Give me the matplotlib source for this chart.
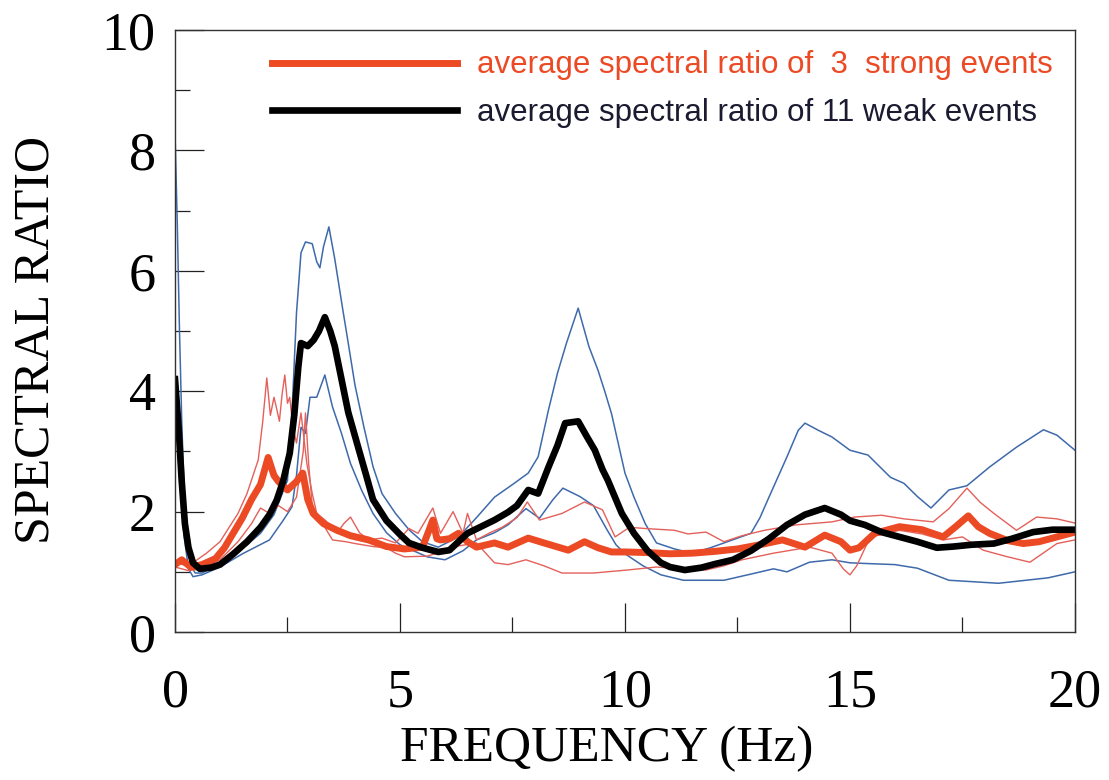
import matplotlib
matplotlib.use("Agg")
import matplotlib.pyplot as plt
from matplotlib.ticker import MultipleLocator

# average of 11 weak events (thick black) and +/- envelope (thin blue)
f_black = [0.0, 0.08, 0.15, 0.22, 0.3, 0.4, 0.55, 0.8, 1.0, 1.3, 1.6, 1.9, 2.1, 2.26, 2.4,
           2.55, 2.65, 2.74, 2.8, 2.95, 3.08, 3.2, 3.33, 3.45, 3.55, 3.7, 3.85, 4.07, 4.25,
           4.4, 4.7, 5.0, 5.2, 5.5, 5.85, 6.1, 6.3, 6.5, 6.8, 7.1, 7.4, 7.6, 7.85, 8.07, 8.3,
           8.5, 8.67, 8.96, 9.15, 9.33, 9.5, 9.62, 9.8, 9.93, 10.2, 10.5, 10.8, 11.0, 11.33,
           11.7, 12.0, 12.4, 12.8, 13.2, 13.6, 14.0, 14.44, 14.8, 15.0, 15.33, 15.7, 16.0,
           16.5, 16.93, 17.3, 17.7, 18.2, 18.6, 19.07, 19.5, 20.0]
black = [4.2, 3.4, 2.5, 1.8, 1.4, 1.15, 1.05, 1.07, 1.12, 1.3, 1.5, 1.74, 1.95, 2.19, 2.5,
         2.97, 3.6, 4.4, 4.8, 4.75, 4.85, 5.0, 5.23, 5.0, 4.75, 4.2, 3.65, 3.07, 2.6,
         2.2, 1.85, 1.62, 1.48, 1.4, 1.33, 1.36, 1.5, 1.64, 1.75, 1.86, 1.99, 2.1, 2.36, 2.3, 2.74,
         3.1, 3.47, 3.5, 3.25, 3.02, 2.7, 2.52, 2.2, 1.97, 1.64, 1.35, 1.15, 1.08, 1.03,
         1.07, 1.13, 1.2, 1.35, 1.55, 1.78, 1.95, 2.06, 1.95, 1.85, 1.78, 1.66, 1.6,
         1.5, 1.4, 1.42, 1.45, 1.47, 1.55, 1.66, 1.7, 1.7]

f_blue_hi = [0.0, 0.05, 0.1, 0.15, 0.2, 0.27, 0.35, 0.45, 0.6, 0.9, 1.3, 1.6, 1.9, 2.2, 2.5,
             2.6, 2.7, 2.8, 2.9, 3.05, 3.15, 3.22, 3.3, 3.42, 3.55, 3.73, 3.85, 4.0, 4.2, 4.4,
             4.6, 4.9, 5.2, 5.5, 5.85, 6.3, 6.7, 7.1, 7.5, 7.85, 8.07, 8.3, 8.5, 8.7, 8.96,
             9.2, 9.4, 9.55, 9.7, 10.0, 10.2, 10.45, 10.7, 11.1, 11.5, 11.9, 12.2, 12.8, 13.0,
             13.2, 13.6, 13.85, 14.0, 14.3, 14.6, 15.0, 15.4, 15.9, 16.2, 16.5, 16.8, 17.2,
             17.6, 18.1, 18.7, 19.3, 19.6, 20.0]
blue_hi = [8.3, 6.8, 5.0, 3.5, 2.4, 1.5, 1.1, 0.98, 0.98, 1.1, 1.3, 1.45, 1.64, 1.95, 2.52,
           3.64, 5.3, 6.3, 6.48, 6.45, 6.15, 6.05, 6.4, 6.73, 6.2, 5.35, 4.8, 4.1, 3.4, 2.75,
           2.3, 1.97, 1.7, 1.5, 1.41, 1.58, 1.9, 2.24, 2.45, 2.64, 2.91, 3.69, 4.3, 4.8, 5.38,
           4.74, 4.35, 4.0, 3.63, 2.64, 2.24, 1.8, 1.48, 1.38, 1.31, 1.4, 1.48, 1.64, 1.9,
           2.24, 2.91, 3.35, 3.47, 3.35, 3.24, 3.02, 2.94, 2.57, 2.47, 2.25, 2.06, 2.36,
           2.43, 2.74, 3.07, 3.36, 3.27, 3.02]

f_blue_lo = [0.0, 0.1, 0.2, 0.3, 0.4, 0.6, 1.0, 1.5, 2.1, 2.4, 2.6, 2.7, 2.8, 2.9, 3.0, 3.15,
             3.33, 3.5, 3.7, 3.9, 4.15, 4.4, 4.7, 5.0, 5.3, 5.6, 6.0, 6.4, 6.7, 7.1, 7.4, 7.8,
             8.1, 8.4, 8.62, 9.0, 9.3, 9.6, 9.8, 10.0, 10.4, 10.8, 11.3, 12.2, 12.9, 13.3,
             13.6, 14.1, 14.6, 15.0, 15.3, 16.0, 16.5, 17.2, 18.3, 19.4, 20.0]
blue_lo = [3.9, 2.6, 1.6, 1.05, 0.92, 0.95, 1.08, 1.3, 1.53, 1.85, 2.08, 2.6, 3.4, 3.3, 3.9, 3.9,
           4.27, 3.74, 3.3, 2.8, 2.35, 1.97, 1.65, 1.45, 1.35, 1.25, 1.2, 1.35, 1.53, 1.65, 1.78, 2.05,
           1.89, 2.2, 2.39, 2.25, 2.1, 1.7, 1.45, 1.3, 1.1, 0.95, 0.86, 0.86, 0.98, 1.05,
           1.0, 1.16, 1.2, 1.15, 1.14, 1.12, 1.06, 0.86, 0.81, 0.9, 1.0]

# average of 3 strong events (thick red) and envelope (thin red)
f_red = [0.0, 0.15, 0.35, 0.6, 0.9, 1.1, 1.3, 1.5, 1.7, 1.9, 2.07, 2.2, 2.3, 2.5, 2.7, 2.84,
         2.95, 3.07, 3.3, 3.6, 3.9, 4.3, 4.7, 5.1, 5.5, 5.65, 5.73, 5.82, 5.9, 6.1, 6.3, 6.5,
         6.7, 7.1, 7.4, 7.85, 8.2, 8.74, 9.1, 9.4, 9.7, 10.0, 10.5, 11.0, 11.5, 12.0, 12.5,
         13.0, 13.5, 14.0, 14.44, 14.8, 15.0, 15.2, 15.55, 16.1, 16.6, 17.07, 17.35, 17.63,
         17.85, 18.1, 18.5, 18.85, 19.2, 19.6, 20.0]
red = [1.12, 1.2, 1.08, 1.12, 1.22, 1.4, 1.65, 1.9, 2.2, 2.45, 2.9, 2.6, 2.5, 2.36, 2.5, 2.64,
       2.2, 1.97, 1.8, 1.69, 1.6, 1.53, 1.42, 1.38, 1.41, 1.7, 1.86, 1.55, 1.53, 1.55, 1.64, 1.5,
       1.41, 1.48, 1.41, 1.56, 1.48, 1.36, 1.5, 1.4, 1.33, 1.33, 1.32, 1.3, 1.31, 1.34, 1.38,
       1.45, 1.53, 1.41, 1.61, 1.5, 1.36, 1.4, 1.64, 1.75, 1.7, 1.58, 1.75, 1.93,
       1.75, 1.64, 1.52, 1.47, 1.5, 1.58, 1.66]

f_red_hi = [0.0, 0.3, 0.7, 1.0, 1.4, 1.6, 1.85, 1.95, 2.04, 2.12, 2.2, 2.25, 2.32, 2.38, 2.44,
            2.5, 2.55, 2.62, 2.7, 2.8, 2.93, 3.05, 3.15, 3.35, 3.6, 3.75, 3.9, 4.1, 4.3, 4.6,
            4.9, 5.2, 5.4, 5.73, 5.9, 6.18, 6.4, 6.5, 6.7, 7.0, 7.27, 7.6, 7.83, 8.1, 8.6, 9.1,
            9.5, 9.78, 10.1, 10.44, 11.1, 11.4, 11.8, 12.2, 12.6, 13.1, 13.8, 14.6, 15.1, 15.7,
            16.2, 16.85, 17.2, 17.6, 17.9, 18.2, 18.7, 19.15, 19.6, 20.0]
red_hi = [1.15, 1.1, 1.31, 1.5, 1.97, 2.3, 2.86, 3.5, 4.22, 3.6, 3.9, 3.74, 3.5, 3.95, 4.27,
          3.8, 3.9, 3.4, 3.14, 3.64, 2.8, 2.3, 1.97, 1.85, 1.64, 1.8, 1.91, 1.65, 1.53, 1.56,
          1.48, 1.72, 1.64, 2.06, 1.64, 2.0, 1.64, 1.97, 1.53, 1.65, 1.74, 1.9, 2.16, 1.86, 1.97, 2.16,
          2.03, 1.58, 1.74, 1.72, 1.69, 1.63, 1.66, 1.5, 1.6, 1.69, 1.78, 1.83, 1.91, 1.94,
          1.88, 1.83, 2.05, 2.39, 2.15, 1.97, 1.69, 1.91, 1.88, 1.81]

f_red_lo = [0.0, 0.3, 0.6, 1.0, 1.4, 1.7, 1.9, 2.1, 2.3, 2.5, 2.7, 2.85, 2.9, 2.97, 3.05, 3.2,
            3.5, 3.8, 4.0, 4.4, 4.7, 4.9, 5.1, 5.6, 6.0, 6.3, 6.7, 7.1, 7.4, 7.8, 8.2, 8.6, 9.3,
            10.05, 10.7, 11.3, 11.8, 12.2, 12.6, 13.3, 14.1, 14.6, 14.85, 15.0, 15.15, 15.45,
            16.1, 16.6, 17.07, 17.5, 17.96, 18.5, 19.0, 19.6, 20.0]
red_lo = [1.08, 1.02, 1.05, 1.2, 1.5, 1.8, 2.06, 1.97, 2.1, 2.0, 2.24, 3.0, 3.64, 2.8, 2.1, 1.9,
          1.53, 1.5, 1.47, 1.42, 1.4, 1.31, 1.25, 1.26, 1.35, 1.43, 1.48, 1.15, 1.12, 1.2, 1.1, 0.98, 0.98,
          1.03, 1.08, 1.05, 1.03, 1.1, 1.2, 1.31, 1.41, 1.31, 1.05, 0.95, 1.1, 1.58,
          1.69, 1.63, 1.53, 1.58, 1.36, 1.25, 1.16, 1.47, 1.53]

labels = ["average spectral ratio of  3  strong events",
          "average spectral ratio of 11 weak events"]

RED = "#ec4a25"
RED_THIN = "#e4605a"
BLUE = "#3e6aab"

fig = plt.figure(figsize=(11.09, 7.8), dpi=100)
ax = fig.add_axes([0.1578, 0.1897, 0.8115, 0.7718])

ax.plot(f_blue_hi, blue_hi, color=BLUE, lw=1.1)
ax.plot(f_blue_lo, blue_lo, color=BLUE, lw=1.1)
ax.plot(f_red_hi, red_hi, color=RED_THIN, lw=1.0)
ax.plot(f_red_lo, red_lo, color=RED_THIN, lw=1.0)
l1, = ax.plot(f_red, red, color=RED, lw=5, solid_joinstyle="round")
l2, = ax.plot(f_black, black, color="black", lw=4.8, solid_joinstyle="round")

ax.set_xlim(0, 20)
ax.set_ylim(0, 10)
ax.xaxis.set_major_locator(MultipleLocator(5))
ax.xaxis.set_minor_locator(MultipleLocator(2.5))
ax.yaxis.set_major_locator(MultipleLocator(2))
ax.yaxis.set_minor_locator(MultipleLocator(1))
ax.tick_params(which="both", direction="in", width=0.9, color="#222222")
ax.tick_params(which="major", length=21)
ax.tick_params(which="minor", length=10.5)
ax.tick_params(axis="x", which="major", pad=26)
ax.tick_params(axis="y", which="major", pad=14)
for s in ax.spines.values():
    s.set_linewidth(1.0)
    s.set_color("#333333")

for t in ax.get_xticklabels() + ax.get_yticklabels():
    t.set_fontfamily("Liberation Serif")
    t.set_fontsize(39)

ax.set_xlabel("FREQUENCY (Hz)", family="Liberation Serif", fontsize=37)
ax.set_ylabel("SPECTRAL RATIO", family="Liberation Serif", fontsize=36)
ax.xaxis.set_label_coords(0.48, -0.155)
ax.yaxis.set_label_coords(-0.128, 0.485)

leg = ax.legend([l1, l2], labels, loc="upper left", bbox_to_anchor=(0.108, 0.966),
                frameon=False, handlelength=5.9, handletextpad=0.65, labelspacing=0.56,
                borderpad=0, borderaxespad=0,
                prop={"family": "Liberation Sans", "size": 22.5})
leg.get_texts()[0].set_color(RED)
leg.get_texts()[1].set_color("#1a1a30")

fig.savefig("out.png", dpi=100)
